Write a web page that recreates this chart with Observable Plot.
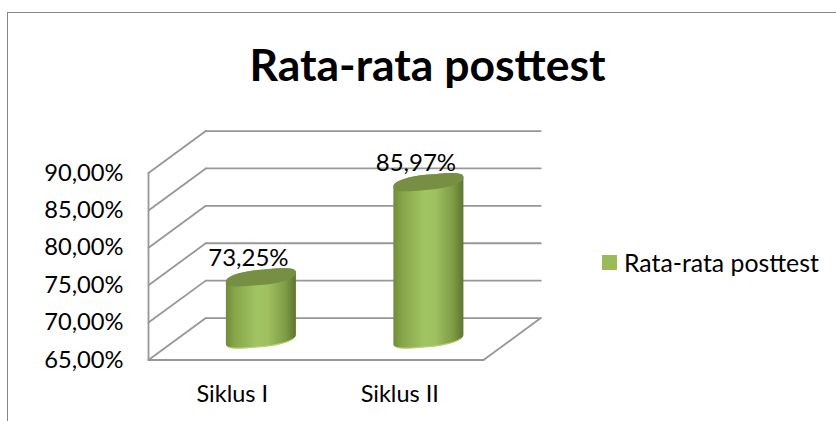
<!DOCTYPE html>
<html><head><meta charset="utf-8">
<script src="https://cdn.jsdelivr.net/npm/d3@7"></script>
<script src="https://cdn.jsdelivr.net/npm/@observablehq/plot@0.6"></script>
<style>
html,body{margin:0;padding:0;background:#fff;overflow:hidden}
#wrap{position:relative;width:836px;height:421px;font-family:Lato,"Open Sans",sans-serif;color:#000}
#frame{position:absolute;left:7px;top:12px;right:-5px;bottom:-5px;border:1.5px solid #868686}
#title{position:absolute;left:0;width:855px;top:38px;text-align:center;font-size:44.5px;font-weight:700;line-height:52px}
#legend{position:absolute;left:602px;top:247px;display:flex;align-items:center;height:30px;font-size:24.8px;white-space:nowrap}
#legend i{display:block;width:15px;height:15px;background:#9bbb59;margin-right:7px}
svg{position:absolute;left:0;top:0;background:transparent}
</style></head><body>
<div id="wrap"><div id="frame"></div><div id="plot"></div>
<div id="title">Rata-rata posttest</div>
<div id="legend"><i></i><span>Rata-rata posttest</span></div></div>
<script>
const categories = ["Siklus I", "Siklus II"];
const values = [73.25, 85.97];
const yTicks = [65, 70, 75, 80, 85, 90];
const fmt = v => v.toFixed(2).replace(".", ",") + "%";

// oblique depth of the 3-D box, in scale units
const depthX = 0.342, depthY = 5.61;
const mid = [depthX / 2, depthY / 2];
const a = 0.209, b = 1.02, s = 0.62, p = 0.8;
const spow = (c) => Math.sign(c) * Math.pow(Math.abs(c), p);
const ring = (i, v, t) => ({
  x: i + 0.5 + mid[0] + a * spow(Math.cos(t)),
  y: v + mid[1] + b * spow(Math.sin(t)) + s * Math.cos(t)
});
const angles = (from, to) => d3.range(41).map(k => from + (to - from) * k / 40);

const wallBack = yTicks.map(v => [{x: depthX, y: v + depthY}, {x: 2 + depthX, y: v + depthY}]);
const wallSide = yTicks.map(v => [{x: 0, y: v}, {x: depthX, y: v + depthY}]);
const frontEdges = [
  [{x: 0, y: yTicks[0]}, {x: 0, y: yTicks[5]}],
  [{x: 0, y: yTicks[0]}, {x: 2, y: yTicks[0]}],
  [{x: 2, y: yTicks[0]}, {x: 2 + depthX, y: yTicks[0] + depthY}]
];
const segs = [...wallBack, ...wallSide, ...frontEdges];
const segData = segs.flatMap((seg, id) => seg.map(p => ({...p, id})));

const base = 65;
const bodies = values.flatMap((v, i) => [
  ...angles(Math.PI, 2 * Math.PI).map(t => ({...ring(i, base, t), i})),
  ...angles(0, Math.PI).map(t => ({...ring(i, v, t), i}))
]);
const tops = values.flatMap((v, i) => angles(0, 2 * Math.PI).map(t => ({...ring(i, v, t), i})));
const rims = values.flatMap((v, i) => angles(Math.PI * 1.15, Math.PI * 1.85).map(t => ({...ring(i, base, t), i})));

const defs = () => {
  const d = d3.create("svg:defs");
  const g = d.append("linearGradient").attr("id", "cyl");
  [[0, "#6f8c3a"], [0.12, "#86a549"], [0.45, "#a2c563"], [0.6, "#9fc060"], [0.85, "#7f9c45"], [1, "#5c7531"]]
    .forEach(([o, c]) => g.append("stop").attr("offset", o).attr("stop-color", c));
  return d.node();
};

const plot = Plot.plot({
  width: 836, height: 421,
  marginLeft: 148, marginRight: 0, marginTop: 0, marginBottom: 0,
  style: {background: "transparent", overflow: "visible", fontFamily: "Lato, sans-serif", color: "#000"},
  x: {domain: [0, 2], range: [148, 483], axis: null},
  y: {domain: [65, 90], range: [359.5, 172.5], axis: null},
  marks: [
    defs,
    Plot.line(segData, {x: "x", y: "y", z: "id", stroke: "#979797", strokeWidth: 1.8}),
    Plot.axisY({ticks: yTicks, tickFormat: fmt, tickSize: 0, tickPadding: 25, fontSize: 23.7, label: null, anchor: "left", fill: "#000"}),
    Plot.line(bodies, {x: "x", y: "y", z: "i", fill: "url(#cyl)", stroke: "none"}),
    Plot.line(rims, {x: "x", y: "y", z: "i", stroke: "#b3d176", strokeWidth: 1.2}),
    Plot.line(tops, {x: "x", y: "y", z: "i", fill: "#768f42", stroke: "none"}),
    Plot.text(values, {x: (d, i) => i + 0.5 + mid[0], y: v => v + mid[1], text: fmt, dx: -12.5, dy: -19, fontSize: 24, fill: "#000"}),
    Plot.text(categories, {x: (d, i) => i + 0.5, y: () => 65, text: d => d, dy: 34, fontSize: 23.5, fill: "#000"})
  ]
});
document.getElementById("plot").appendChild(plot);
</script></body></html>
